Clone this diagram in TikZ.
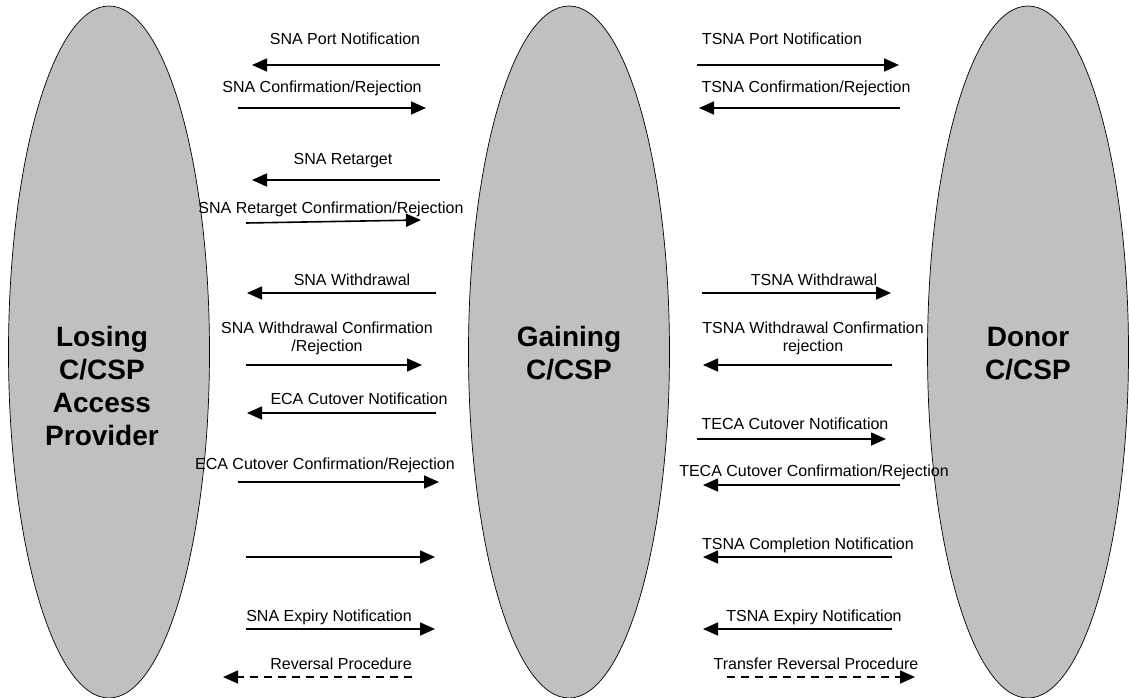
\documentclass[tikz,border=0pt]{standalone}
\usepackage{fontspec}
\setmainfont{Liberation Sans}
\usetikzlibrary{shapes.geometric,arrows.meta}
\definecolor{partygray}{RGB}{192,192,192}
\begin{document}
\begin{tikzpicture}[x=1pt,y=-1pt,
  party/.style={ellipse, draw=black, line width=0.7pt, fill=partygray,
    minimum width=201pt, minimum height=692pt, inner sep=0pt},
  partyname/.style={font=\fontsize{28}{33}\selectfont\bfseries, align=center,
    anchor=north, inner sep=0pt},
  msg/.style={font=\fontsize{16}{18}\selectfont, anchor=base, inner sep=0pt},
  msgtwo/.style={font=\fontsize{16}{18}\selectfont, align=center, inner sep=0pt},
  flow/.style={line width=1.6pt, -{Triangle[length=15pt,width=13pt]}},
  backflow/.style={flow, dash pattern=on 8pt off 6pt}
]
\useasboundingbox (0,0) rectangle (1129,698);

% the three parties
\node[party] (losing)  at (109,352)  {};
\node[party] (gaining) at (569,352)  {};
\node[party] (donor)   at (1028,352) {};
\node[partyname] (losingname)  at (102,326)  {Losing\\C/CSP\\Access\\Provider};
\node[partyname] (gainingname) at (569,326)  {Gaining\\C/CSP};
\node[partyname] (donorname)   at (1028,327) {Donor\\C/CSP};

% end points of the messages between losing and gaining parties
\coordinate (la1) at (440,65);  \coordinate (lb1) at (252,65);
\coordinate (la2) at (238,108); \coordinate (lb2) at (426,108);
\coordinate (la3) at (440,180); \coordinate (lb3) at (252,180);
\coordinate (la4) at (246,223); \coordinate (lb4) at (421,220);
\coordinate (la5) at (436,293); \coordinate (lb5) at (247,293);
\coordinate (la6) at (246,365); \coordinate (lb6) at (422,365);
\coordinate (la7) at (436,413); \coordinate (lb7) at (247,413);
\coordinate (la8) at (238,482); \coordinate (lb8) at (439,482);
\coordinate (la9) at (246,557); \coordinate (lb9) at (435,557);
\coordinate (la10) at (246,629); \coordinate (lb10) at (435,629);
\coordinate (la11) at (412,677); \coordinate (lb11) at (223,677);

% end points of the messages between gaining and donor parties
\coordinate (ra1) at (697,65);  \coordinate (rb1) at (899,65);
\coordinate (ra2) at (900,108); \coordinate (rb2) at (699,108);
\coordinate (ra3) at (702,293); \coordinate (rb3) at (891,293);
\coordinate (ra4) at (892,365); \coordinate (rb4) at (703,365);
\coordinate (ra5) at (697,439); \coordinate (rb5) at (886,439);
\coordinate (ra6) at (900,485); \coordinate (rb6) at (703,485);
\coordinate (ra7) at (892,557); \coordinate (rb7) at (703,557);
\coordinate (ra8) at (892,629); \coordinate (rb8) at (703,629);
\coordinate (ra9) at (727,677); \coordinate (rb9) at (915,677);

% messages on the left
\draw[flow] (la1) -- (lb1);
\draw[flow] (la2) -- (lb2);
\draw[flow] (la3) -- (lb3);
\draw[flow] (la4) -- (lb4);
\draw[flow] (la5) -- (lb5);
\draw[flow] (la6) -- (lb6);
\draw[flow] (la7) -- (lb7);
\draw[flow] (la8) -- (lb8);
\draw[flow] (la9) -- (lb9);
\draw[flow] (la10) -- (lb10);
\draw[backflow] (la11) -- (lb11);

% messages on the right
\draw[flow] (ra1) -- (rb1);
\draw[flow] (ra2) -- (rb2);
\draw[flow] (ra3) -- (rb3);
\draw[flow] (ra4) -- (rb4);
\draw[flow] (ra5) -- (rb5);
\draw[flow] (ra6) -- (rb6);
\draw[flow] (ra7) -- (rb7);
\draw[flow] (ra8) -- (rb8);
\draw[backflow] (ra9) -- (rb9);

% labels on the left
\node[msg] (lt1) at (345,45)  {SNA Port Notification};
\node[msg] (lt2) at (322,93)  {SNA Confirmation/Rejection};
\node[msg] (lt3) at (343,164) {SNA Retarget};
\node[msg] (lt4) at (331,213) {SNA Retarget Confirmation/Rejection};
\node[msg] (lt5) at (352,285) {SNA Withdrawal};
\node[msgtwo] (lt6) at (327,338) {SNA Withdrawal Confirmation\\/Rejection};
\node[msg] (lt7) at (359,404) {ECA Cutover Notification};
\node[msg] (lt8) at (325,469) {ECA Cutover Confirmation/Rejection};
\node[msg] (lt10) at (329,621) {SNA Expiry Notification};
\node[msg] (lt11) at (341,669) {Reversal Procedure};

% labels on the right
\node[msg] (rt1) at (782,45)  {TSNA Port Notification};
\node[msg] (rt2) at (806,93)  {TSNA Confirmation/Rejection};
\node[msg] (rt3) at (814,285) {TSNA Withdrawal};
\node[msgtwo] (rt4) at (813,338) {TSNA Withdrawal Confirmation\\rejection};
\node[msg] (rt5) at (795,429) {TECA Cutover Notification};
\node[msg] (rt6) at (814,476) {TECA Cutover Confirmation/Rejection};
\node[msg] (rt7) at (808,549) {TSNA Completion Notification};
\node[msg] (rt8) at (814,621) {TSNA Expiry Notification};
\node[msg] (rt9) at (816,669) {Transfer Reversal Procedure};
\end{tikzpicture}
\end{document}
